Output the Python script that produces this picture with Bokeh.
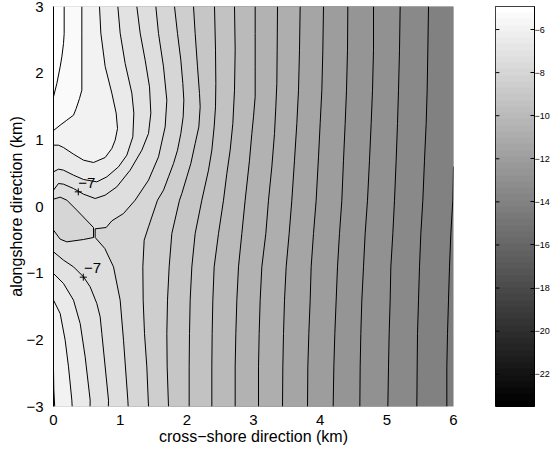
from bokeh.plotting import figure
from bokeh.layouts import row
from bokeh.models import ColumnDataSource, FixedTicker, LinearColorMapper
from bokeh.palettes import gray
from bokeh.core.properties import value
from bokeh.embed import file_html
from bokeh.resources import INLINE
import numpy as np

FONT = "Liberation Sans"
x_ticks = [0, 1, 2, 3, 4, 5, 6]
y_ticks = [-3, -2, -1, 0, 1, 2, 3]
cbar_ticks = [-6, -8, -10, -12, -14, -16, -18, -20, -22]
cbar_low, cbar_high = -23.5, -4.93
x_label = "cross\u2212shore direction (km)"
y_label = "alongshore direction (km)"

# Contours, as (x km, y km) points.
c_m5 = [(.16,3),(.16,2.595),(.15,2.445),(.125,2.245),(.10,2.095),(.05,1.845),(0,1.645)]
c_m55 = [(.425,3),(.425,2.6),(.425,1.745),(.39,1.62),(.34,1.47),(.3,1.37),(.2,1.295),(.1,1.22),(0,1.14)]
c_m55_low = [(0,-2.46),(.005,-2.75),(.018,-3)]
c_m6 = [(.69,3),(.71,2.6),(.775,2.1),(.875,1.7),(.94,1.4),(.96,1.17),(.925,.995),(.875,.87),(.775,.735),(.6,.66),(.45,.695),(.3,.785),(.15,.885),(.075,.92),(0,.92)]
c_m6_low = [(0,-1.405),(.1,-1.605),(.175,-2.005),(.225,-2.405),(.275,-2.905),(.28,-3)]
c_m65 = [(.965,3),(1.0,2.6),(1.075,2.145),(1.175,1.7),(1.205,1.4),(1.19,1.045),(1.1,.77),(.975,.595),(.8,.445),(.65,.37),(.45,.405),(.3,.47),(.15,.545),(.075,.56),(0,.52)]
c_m65_low = [(0,-1.005),(.15,-1.155),(.3,-1.405),(.4,-1.755),(.475,-2.255),(.55,-2.905),(.548,-3)]
c_m7 = [(1.25,3),(1.3,2.6),(1.375,2.195),(1.44,1.795),(1.46,1.4),(1.425,1.095),(1.325,.845),(1.15,.545),(.95,.295),(.775,.17),(.625,.12),(.45,.185),(.3,.27),(.15,.335),(.075,.345),(0,.245)]
c_m7_low = [(0,-.68),(.15,-.805),(.3,-.905),(.45,-1.055),(.55,-1.205),(.65,-1.455),(.7,-1.655),(.725,-1.905),(.825,-2.905),(.823,-3)]
c_m75 = [(1.535,3),(1.575,2.595),(1.65,2.095),(1.7,1.595),(1.675,1.195),(1.575,.745),(1.425,.395),(1.225,.095),(1.05,-.105),(.875,-.215),(.79,-.315),(.625,-.335),(.625,-.465),(.77,-.63),(.9,-.905),(1.0,-1.405),(1.05,-2.005),(1.115,-2.905),(1.12,-3)]
c_m75_lobe = [(0,.11),(.1,.14),(.2,.095),(.35,-.055),(.6,-.315),(.6,-.465),(.45,-.495),(.2,-.53),(.1,-.49),(0,-.355)]
c_m8 = [(1.815,3),(1.86,2.595),(1.91,2.195),(1.94,1.845),(1.955,1.595),(1.945,1.345),(1.91,1.095),(1.86,.845),(1.8,.645),(1.725,.445),(1.65,.245),(1.56,.095),(1.425,-.305),(1.36,-.505),(1.34,-.905),(1.345,-1.405),(1.365,-1.905),(1.4,-2.405),(1.425,-3)]
c_m85 = [(2.1,3),(2.125,2.595),(2.16,2.095),(2.19,1.695),(2.2,1.495),(2.18,1.195),(2.125,.945),(2.06,.645),(2.0,.445),(1.925,.195),(1.89,.095),(1.775,-.405),(1.735,-.905),(1.71,-1.405),(1.7,-1.905),(1.705,-2.405),(1.725,-3)]
c_m9 = [(2.415,3),(2.43,2.345),(2.435,1.845),(2.43,1.495),(2.41,1.195),(2.375,.845),(2.325,.545),(2.225,.095),(2.125,-.405),(2.075,-.905),(2.05,-1.405),(2.04,-1.905),(2.035,-2.405),(2.035,-3)]
c_m95 = [(2.715,3),(2.725,2.345),(2.715,1.745),(2.69,1.245),(2.65,.845),(2.6,.495),(2.55,.095),(2.475,-.405),(2.41,-.905),(2.39,-1.405),(2.38,-1.905),(2.375,-2.405),(2.375,-3)]
c_m10 = [(3.025,3),(3.025,2.595),(3.025,2.095),(3.025,1.645),(3.0,1.345),(2.975,1.095),(2.94,.695),(2.875,.095),(2.825,-.405),(2.775,-.905),(2.75,-1.405),(2.735,-1.905),(2.725,-2.405),(2.725,-3)]
c_m105 = [(3.36,3),(3.355,2.345),(3.35,1.845),(3.335,1.495),(3.315,1.095),(3.275,.595),(3.225,.095),(3.185,-.405),(3.125,-.905),(3.1,-1.405),(3.085,-1.905),(3.075,-2.405),(3.075,-3)]
c_m11 = [(3.7,3),(3.69,2.345),(3.675,1.745),(3.65,1.245),(3.615,.695),(3.575,.095),(3.535,-.405),(3.49,-.905),(3.465,-1.405),(3.45,-1.905),(3.44,-2.405),(3.435,-3)]
c_m115 = [(4.05,3),(4.04,2.345),(4.025,1.745),(4.0,1.245),(3.975,.745),(3.94,.095),(3.9,-.405),(3.865,-.905),(3.85,-1.405),(3.83,-1.905),(3.815,-2.405),(3.81,-3)]
c_m12 = [(4.415,3),(4.41,2.345),(4.395,1.745),(4.375,1.245),(4.35,.695),(4.325,.095),(4.29,-.405),(4.26,-.905),(4.24,-1.405),(4.22,-1.905),(4.205,-2.405),(4.195,-3)]
c_m125 = [(4.8,3),(4.8,2.345),(4.785,1.745),(4.765,1.245),(4.74,.695),(4.71,.095),(4.675,-.405),(4.65,-.905),(4.625,-1.405),(4.61,-1.905),(4.6,-2.405),(4.595,-3)]
c_m13 = [(5.2,3),(5.19,2.345),(5.175,1.745),(5.16,1.245),(5.14,.695),(5.115,.095),(5.09,-.405),(5.06,-.905),(5.05,-1.405),(5.035,-1.905),(5.025,-2.405),(5.015,-3)]
c_m135 = [(5.625,3),(5.615,2.345),(5.605,1.745),(5.59,1.245),(5.565,.695),(5.54,.095),(5.51,-.405),(5.49,-.905),(5.475,-1.405),(5.46,-1.905),(5.455,-2.405),(5.45,-3)]
c_m14 = [(6,.6),(5.99,.095),(5.96,-.405),(5.94,-.905),(5.925,-1.405),(5.91,-1.905),(5.9,-2.405),(5.9,-3)]

label_text = ["\u22127", "\u22127"]
label_x = [.37, .458]
label_y = [.35, -.925]
mark_x = [.372, .447]
mark_y = [.22, -1.06]

NW, SW = (0, 3), (0, -3)
# (level, line, closing corners) painted darkest first; each fills the lighter side.
bands = [
    (-14, c_m14, [SW, NW, (6, 3)]),
    (-13.5, c_m135, [SW, NW]), (-13, c_m13, [SW, NW]), (-12.5, c_m125, [SW, NW]),
    (-12, c_m12, [SW, NW]), (-11.5, c_m115, [SW, NW]), (-11, c_m11, [SW, NW]),
    (-10.5, c_m105, [SW, NW]), (-10, c_m10, [SW, NW]), (-9.5, c_m95, [SW, NW]),
    (-9, c_m9, [SW, NW]), (-8.5, c_m85, [SW, NW]), (-8, c_m8, [SW, NW]),
    (-7.5, c_m75, [SW, NW]),
    (-8, c_m75_lobe, []),
    (-7, c_m7, [NW]), (-7, c_m7_low, [SW]),
    (-6.5, c_m65, [NW]), (-6.5, c_m65_low, [SW]),
    (-6, c_m6, [NW]), (-6, c_m6_low, [SW]),
    (-5.5, c_m55, [NW]), (-5.5, c_m55_low, [SW]),
    (-5, c_m5, [NW]),
]

mapper = LinearColorMapper(palette=gray(64), low=cbar_low, high=cbar_high)

p = figure(x_range=(0, 6), y_range=(-3, 3),
           output_backend="svg", toolbar_location=None,
           min_border_left=45, min_border_right=15, min_border_top=6, min_border_bottom=36,
           frame_width=400, frame_height=400, margin=(0, 0, -20, 5))
p.grid.visible = False
p.outline_line_color = None
p.background_fill_color = mapper.palette[int((-14.5 - cbar_low) / (cbar_high - cbar_low) * 64)]

band_src = ColumnDataSource(dict(
    xs=[[q[0] for q in line] + [q[0] for q in close] for _, line, close in bands],
    ys=[[q[1] for q in line] + [q[1] for q in close] for _, line, close in bands],
    level=[b[0] for b in bands],
))
p.patches("xs", "ys", source=band_src, line_color=None,
          fill_color={"field": "level", "transform": mapper})
p.multi_line([[q[0] for q in b[1]] for b in bands], [[q[1] for q in b[1]] for b in bands],
             line_color="black", line_width=1)
p.scatter(mark_x, mark_y, marker="cross", size=7, line_color="black", line_width=1)
p.text(label_x, label_y, text=label_text, text_font=value(FONT), text_font_size="15px",
       text_baseline="middle", text_align="left", text_color="black")

p.xaxis.ticker = FixedTicker(ticks=x_ticks)
p.yaxis.ticker = FixedTicker(ticks=y_ticks)
for ax in (p.xaxis[0], p.yaxis[0]):
    ax.major_tick_line_color = None
    ax.minor_tick_line_color = None
    ax.major_label_text_font = FONT
    ax.major_label_text_font_size = "15px"
    ax.major_label_text_color = "black"
    ax.axis_label_text_font = FONT
    ax.axis_label_text_font_size = "16px"
    ax.axis_label_text_font_style = "normal"
    ax.axis_label_text_color = "black"
p.xaxis.axis_line_color = None
p.yaxis.axis_line_color = "black"
p.xaxis.major_label_standoff = 2
p.yaxis.major_label_standoff = 4
p.xaxis.axis_label_standoff = 0
p.yaxis.axis_label_standoff = -2
p.xaxis.axis_label = x_label
p.yaxis.axis_label = y_label

cb = figure(x_range=(0, 1), y_range=(cbar_low, cbar_high),
            output_backend="svg", toolbar_location=None, y_axis_location="right",
            min_border_left=27, min_border_right=1, min_border_top=6, min_border_bottom=36,
            frame_width=39, frame_height=400, margin=(0, 0, -20, 0))
cb.grid.visible = False
cb.xaxis.visible = False
cb.outline_line_color = "black"
ramp = np.linspace(cbar_low, cbar_high, 64).reshape(64, 1)
cb.image(image=[ramp], x=0, y=cbar_low, dw=1, dh=cbar_high - cbar_low, color_mapper=mapper)
cb.segment(x0=[0] * len(cbar_ticks), x1=[0.1] * len(cbar_ticks), y0=cbar_ticks, y1=cbar_ticks,
           line_color="black", line_width=1)
ax = cb.yaxis[0]
ax.ticker = FixedTicker(ticks=cbar_ticks)
ax.major_tick_in = 4
ax.major_tick_out = 0
ax.minor_tick_line_color = None
ax.major_tick_line_color = "black"
ax.axis_line_color = "black"
ax.major_label_text_font = FONT
ax.major_label_text_font_size = "9px"
ax.major_label_text_color = "black"
ax.major_label_standoff = 0

page = row(p, cb, spacing=0)
open("out.html", "w").write(file_html(page, INLINE))
